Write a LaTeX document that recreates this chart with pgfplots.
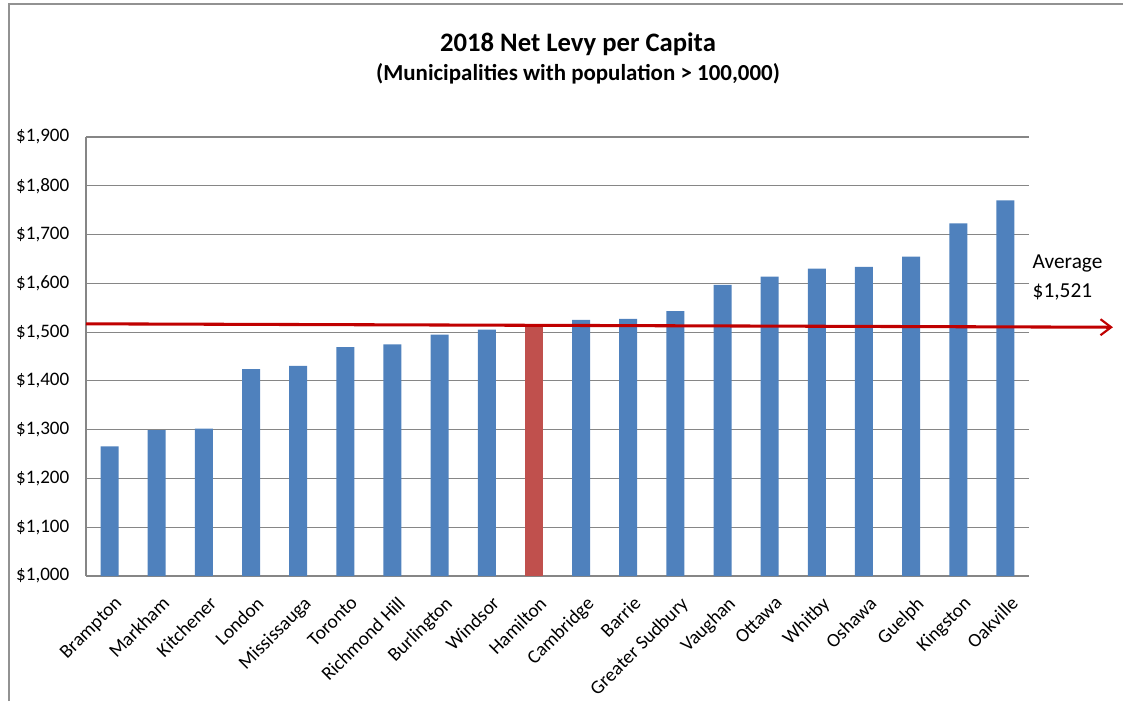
\documentclass[border=0pt]{standalone}
\usepackage{pgfplots}
\pgfplotsset{compat=1.18}
\usepackage{fontspec}
\setmainfont{Carlito}
\usetikzlibrary{arrows.meta}
\definecolor{barblue}{HTML}{4F81BD}
\definecolor{barred}{HTML}{C0504D}
\definecolor{avgred}{HTML}{C00000}
\definecolor{gridgray}{HTML}{868686}
\begin{document}
\begin{tikzpicture}
\path[use as bounding box] (0,0) rectangle (842.25pt,525.75pt);
\draw[draw=gridgray!90, line width=1.5pt] (7.1pt,0) -- (7.1pt,523pt) -- (842.25pt,523pt);
\node[font=\bfseries\fontsize{20}{24}\selectfont, anchor=base] at (433.5pt,487pt) {2018 Net Levy per Capita};
\node[font=\bfseries\fontsize{17.2}{20}\selectfont, anchor=base] at (433.5pt,465pt) {(Municipalities with population > 100,000)};
\begin{axis}[
  at={(64.5pt,93.75pt)}, anchor=south west,
  scale only axis, width=707.25pt, height=329.25pt,
  xmin=-0.5, xmax=19.5, ymin=1000, ymax=1900,
  clip=false,
  axis x line*=bottom, axis y line*=left,
  axis line style={draw=gridgray, line width=0.8pt},
  major tick length=0pt,
  ymajorgrids, grid style={draw=gridgray, line width=0.8pt},
  ytick={1000,1100,...,1900},
  yticklabels={{\$1,000},{\$1,100},{\$1,200},{\$1,300},{\$1,400},{\$1,500},{\$1,600},{\$1,700},{\$1,800},{\$1,900}},
  yticklabel style={font=\fontsize{14.3}{16}\selectfont, anchor=east, xshift=-9pt},
  xtick={0,...,19},
  xticklabels={Brampton,Markham,Kitchener,London,Mississauga,Toronto,Richmond Hill,Burlington,Windsor,Hamilton,Cambridge,Barrie,Greater Sudbury,Vaughan,Ottawa,Whitby,Oshawa,Guelph,Kingston,Oakville},
  xticklabel style={font=\fontsize{14.5}{16}\selectfont, rotate=45, anchor=north east, yshift=-9pt, xshift=-4.5pt},
]
\addplot[ybar, bar width=13.5pt, bar shift=0pt, fill=barblue, draw=none] coordinates {
(0,1266) (1,1299) (2,1302) (3,1424) (4,1431) (5,1469) (6,1475) (7,1495) (8,1505)
(10,1525) (11,1527) (12,1543) (13,1597) (14,1614) (15,1630) (16,1634) (17,1655) (18,1723) (19,1770)};
\addplot[ybar, bar width=13.5pt, bar shift=0pt, fill=barred, draw=none] coordinates {(9,1515)};
\addplot[sharp plot, no marks, draw=avgred, line width=2.3pt, -{Straight Barb[length=8pt,width=12pt,line width=1.6pt]}] coordinates {(-0.5,1517) (21.28,1510)};
\end{axis}
\node[font=\fontsize{16}{19}\selectfont, anchor=base west] at (771pt,324.75pt) {Average};
\node[font=\fontsize{16}{19}\selectfont, anchor=base west] at (771pt,303pt) {\$1,521};
\end{tikzpicture}
\end{document}
